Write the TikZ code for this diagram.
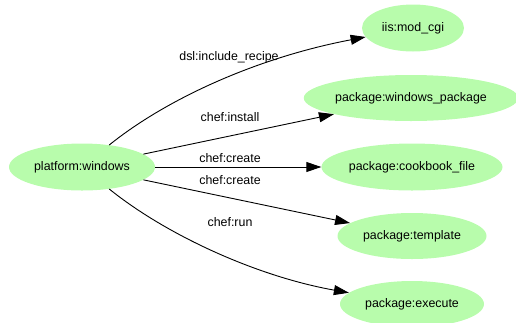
\documentclass[tikz,border=0pt]{standalone}
\usepackage{fontspec}
\setmainfont{Liberation Sans}
\usetikzlibrary{arrows.meta,shapes.geometric}
\definecolor{nodegreen}{RGB}{184,252,172}
\tikzset{
  ent/.style={ellipse, fill=nodegreen, draw=none, inner sep=0pt, font=\fontsize{12.4}{14}\selectfont},
  rel/.style={draw=black, line width=0.9pt, -{Triangle[length=15pt,width=10pt]}},
  lbl/.style={font=\fontsize{12.4}{14}\selectfont, inner sep=0pt}
}
\begin{document}
\begin{tikzpicture}[x=1pt,y=-1pt]
\useasboundingbox (0,0) rectangle (516,322);
\node[ent, minimum width=146pt, minimum height=47pt] (p) at (82,167) {platform:windows};
\node[ent, minimum width=102pt, minimum height=47pt] (iis) at (413,28) {iis:mod\_cgi};
\node[ent, minimum width=210pt, minimum height=46pt] (wp) at (411,98) {package:windows\_package};
\node[ent, minimum width=181pt, minimum height=47pt] (cf) at (412,167) {package:cookbook\_file};
\node[ent, minimum width=149pt, minimum height=46pt] (tp) at (412,236) {package:template};
\node[ent, minimum width=144pt, minimum height=46pt] (ex) at (412,304) {package:execute};

\draw[rel] (p) .. controls (165,100) and (255,58) .. (iis);
\draw[rel] (p) -- (wp);
\draw[rel] (p) -- (cf);
\draw[rel] (p) -- (tp);
\draw[rel] (p) .. controls (165,234) and (255,276) .. (ex);

\node[lbl] (l1) at (229,57) {dsl:include\_recipe};
\node[lbl] (l2) at (230,117) {chef:install};
\node[lbl] (l3) at (230,158) {chef:create};
\node[lbl] (l4) at (230,180) {chef:create};
\node[lbl] (l5) at (230,222) {chef:run};
\end{tikzpicture}
\end{document}
